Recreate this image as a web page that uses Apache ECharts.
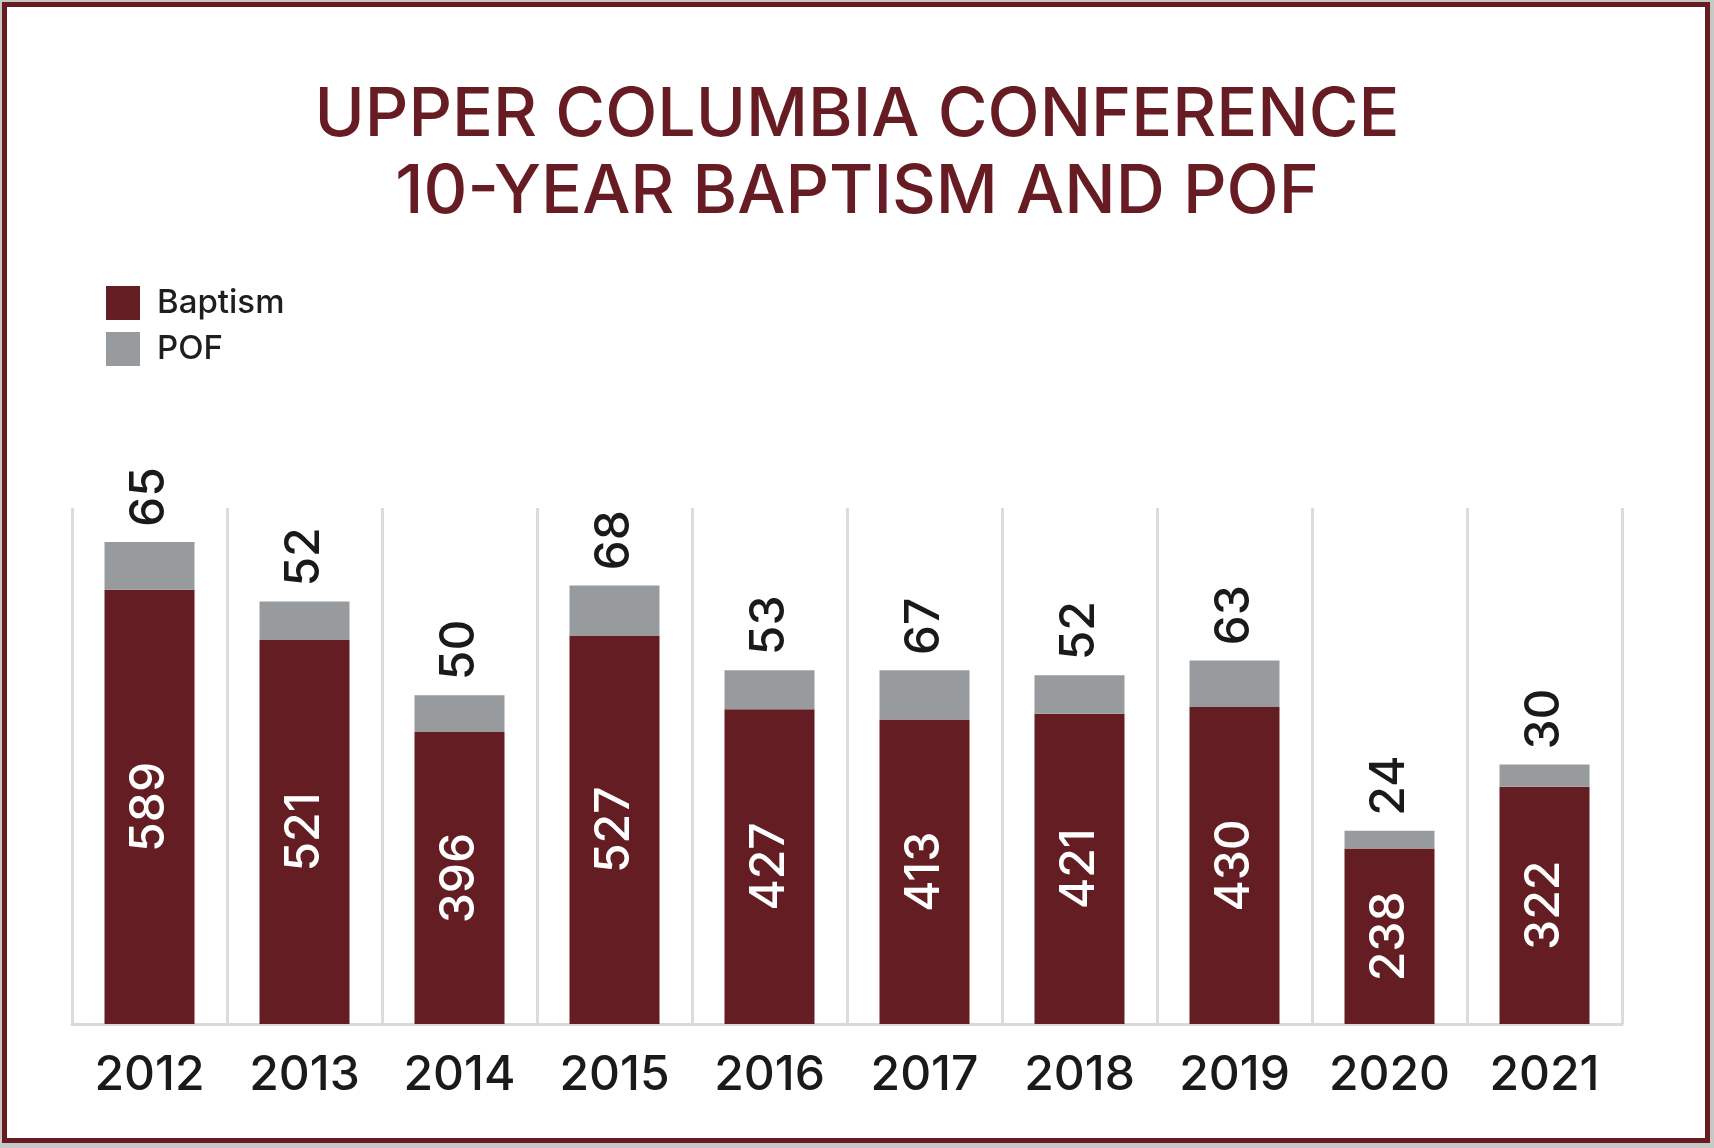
<!DOCTYPE html>
<html>
<head>
<meta charset="utf-8">
<script src="https://cdn.jsdelivr.net/npm/echarts@6/dist/echarts.min.js"></script>
<style>
  html, body { margin: 0; padding: 0; background: #c8c8c6; }
  #main { width: 1714px; height: 1148px; }
</style>
</head>
<body>
<div id="main"></div>
<script>
// data
var years = ['2012', '2013', '2014', '2015', '2016', '2017', '2018', '2019', '2020', '2021'];
var baptism = [589, 521, 396, 527, 427, 413, 421, 430, 238, 322];
var pof = [65, 52, 50, 68, 53, 67, 52, 63, 24, 30];

var font = 'Inter, "Open Sans", sans-serif';
var red = '#641d22';
var grey = '#989b9d';

var myChart = echarts.init(document.getElementById('main'));

var option = {
    backgroundColor: '#c8c8c6',
    graphic: [{
        type: 'rect',
        z: -10,
        shape: { x: 4.5, y: 4.5, width: 1703, height: 1136 },
        style: { fill: '#ffffff', stroke: '#651d22', lineWidth: 5 }
    }],
    title: {
        text: 'UPPER COLUMBIA CONFERENCE\n10-YEAR BAPTISM AND POF',
        left: 857,
        top: 77,
        textAlign: 'center',
        padding: 0,
        textStyle: {
            fontFamily: font,
            fontWeight: 500,
            fontSize: 68,
            lineHeight: 77,
            color: '#661c22'
        }
    },
    legend: {
        orient: 'vertical',
        left: 106,
        top: 286,
        padding: 0,
        itemWidth: 34,
        itemHeight: 34,
        itemGap: 12,
        icon: 'rect',
        data: ['Baptism', 'POF'],
        textStyle: {
            fontFamily: font,
            fontWeight: 500,
            fontSize: 33,
            color: '#1e1e1e',
            padding: [0, 0, 0, 12]
        }
    },
    grid: {
        left: 72,
        right: 1714 - 1622,
        top: 508,
        bottom: 1148 - 1024
    },
    xAxis: {
        type: 'category',
        data: years,
        axisLine: { lineStyle: { color: '#d9d9d6', width: 3 } },
        axisTick: { show: false },
        splitLine: {
            show: true,
            interval: 0,
            lineStyle: { color: '#dcdcd9', width: 3 }
        },
        axisLabel: {
            interval: 0,
            margin: 28,
            fontFamily: font,
            fontWeight: 500,
            fontSize: 48,
            color: '#1a1a1a'
        }
    },
    yAxis: {
        type: 'value',
        min: 0,
        max: 700,
        show: false,
        splitLine: { show: false }
    },
    series: [{
        name: 'Baptism',
        type: 'bar',
        stack: 'total',
        barWidth: 90,
        data: baptism,
        itemStyle: { color: red },
        label: {
            show: true,
            position: 'inside',
            rotate: 90,
            align: 'center',
            verticalAlign: 'middle',
            fontFamily: font,
            fontWeight: 500,
            fontSize: 48,
            color: '#ffffff'
        }
    }, {
        name: 'POF',
        type: 'bar',
        stack: 'total',
        barWidth: 90,
        data: pof,
        itemStyle: { color: grey },
        label: {
            show: true,
            position: 'top',
            distance: 15,
            rotate: 90,
            align: 'left',
            verticalAlign: 'middle',
            fontFamily: font,
            fontWeight: 500,
            fontSize: 48,
            color: '#1a1a1a'
        }
    }]
};
myChart.setOption(option);
</script>
</body>
</html>
